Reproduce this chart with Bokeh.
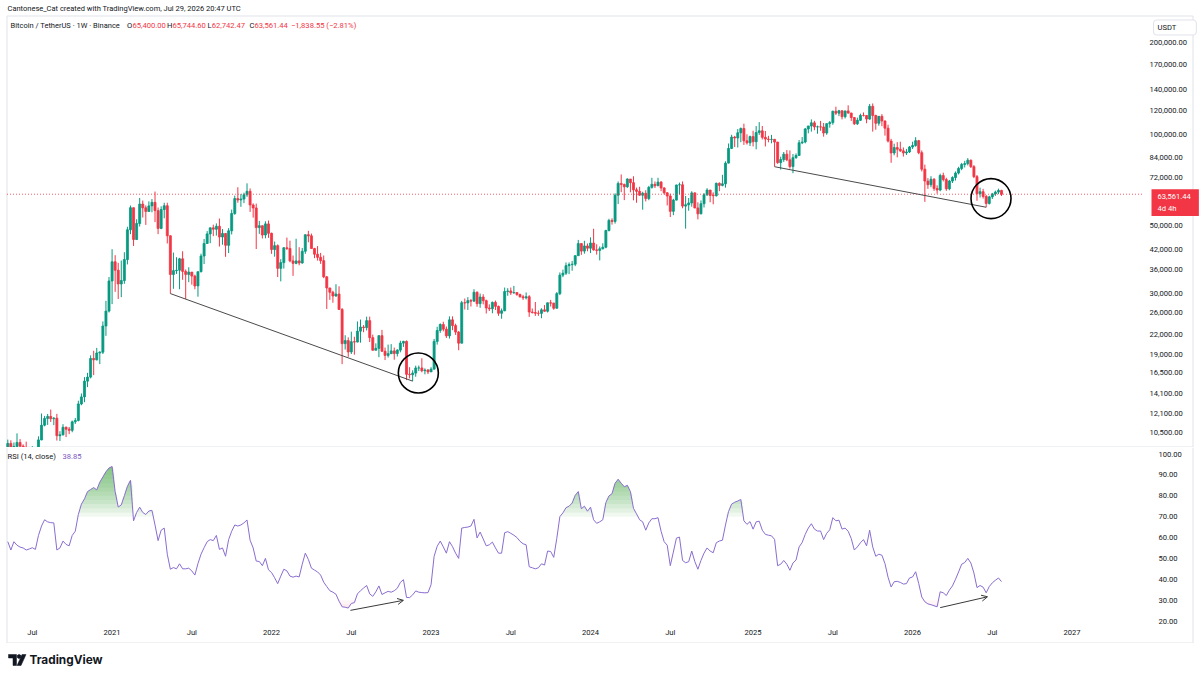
import numpy as np
import pandas as pd
from bokeh.plotting import figure
from bokeh.layouts import column
from bokeh.models import (Range1d, FixedTicker, NumeralTickFormatter, CustomJSTickFormatter,
                          Label, Arrow, OpenHead, ColumnDataSource)
from bokeh.core.properties import value
from bokeh.embed import file_html
from bokeh.resources import INLINE

# ------------------------------------------------------------------ data
start_week = "2020-05-11"          # first weekly bar (Monday)
first_open = 8720

closes = [
    # 2020
    9670, 8720, 9450, 9740, 9470, 9360, 9010, 9070, 9240, 9160,
    9930, 11100, 11680, 11850, 11650, 11700, 10250, 10320, 10920, 10770,
    10670, 11380, 11500, 13030, 13740, 15480, 15960, 18370, 18180, 19150,
    19270, 23480, 26280, 33000,
    # 2021
    38150, 35800, 32260, 33100, 38800, 48580, 57400, 45130, 50970, 59000,
    57350, 55800, 58200, 59770, 56150, 49100, 56620, 58250, 46420, 34650,
    35670, 35800, 39000, 35480, 34680, 35290, 34240, 31780, 35400, 39850,
    43800, 47100, 49300, 48800, 49900, 46000, 47250, 43200, 48200, 54950,
    61500, 60850, 61300, 63300, 65000, 58600, 57300, 49400, 50100, 46700,
    50800, 47300,
    # 2022
    41850, 43100, 36300, 37900, 42400, 42200, 38400, 37700, 38400, 37800,
    41300, 46800, 46400, 42150, 40400, 39450, 38470, 34050, 31300, 30300,
    29450, 29900, 26600, 20550, 21030, 19300, 20850, 20800, 22580, 23300,
    23200, 24450, 21500, 19550, 19830, 21830, 19400, 18800, 19050, 19450,
    19070, 19570, 20630, 20900, 16300, 16250, 16450, 17100, 17100, 16750,
    16840, 16600,
    # 2023
    16950, 20900, 22700, 23750, 22930, 21800, 24600, 23550, 22430, 20620,
    28000, 27950, 28450, 28330, 30300, 27800, 29230, 28430, 26900, 26750,
    28070, 27230, 25850, 26340, 30470, 30600, 30170, 30250, 29790, 29280,
    29050, 29300, 26100, 26000, 25850, 25830, 26530, 26250, 27980, 27920,
    26850, 29980, 34500, 35000, 37050, 37350, 37450, 39950, 43770, 41350,
    43000, 42280,
    # 2024
    43950, 41730, 41580, 42100, 42600, 48300, 52140, 51730, 63100, 68950,
    68380, 67200, 71300, 69350, 65700, 64950, 63100, 64000, 61500, 66950,
    68500, 67750, 69650, 66650, 64250, 62700, 55850, 60800, 68150, 68250,
    58100, 58700, 59500, 64200, 57300, 54800, 59150, 63350, 65600, 63000,
    62850, 69000, 67950, 68750, 80400, 89850, 97900, 97200, 101100, 104450,
    95150, 93700,
    # 2025
    98300, 94500, 101300, 102600, 97700, 96450, 96150, 96250, 94250, 80700,
    82600, 86050, 82400, 78350, 83750, 85200, 93750, 94300, 104100, 106450,
    109000, 105700, 105750, 105600, 100950, 108350, 109200, 119000, 117300, 119450,
    114200, 119300, 117400, 113500, 108250, 111150, 115300, 115250, 112150, 123500,
    115200, 108650, 114500, 110550, 104700, 95000, 86800, 90400, 89300, 88200,
    86800, 87500,
    # 2026
    90800, 91800, 95300, 87000, 76800, 70200, 68300, 71200, 66400, 65600,
    73200, 71000, 66200, 70200, 72100, 74600, 77200, 79600, 80100, 82200,
    78300, 72600, 63800, 64800, 62500, 59300, 62300, 63700, 64600, 65400,
    63561.44,
]

highs = [
    # 2020
    9950, 9900, 9740, 10430, 9990, 9600, 9800, 9300, 9470, 9350,
    10200, 12120, 11900, 12080, 12490, 11800, 12090, 10600, 11180, 10990,
    10950, 11490, 11720, 13350, 14100, 15960, 16480, 18800, 19470, 19900,
    19400, 24300, 28400, 34000,
    # 2021
    41950, 40100, 37850, 38500, 41000, 49700, 58350, 57500, 52600, 61800,
    60600, 58400, 60200, 61300, 64850, 57500, 58000, 59600, 59600, 46600,
    40900, 39500, 39300, 41300, 36000, 36600, 35300, 34600, 35400, 40550,
    45300, 48100, 49400, 50500, 51000, 52900, 48850, 47400, 49200, 56600,
    62900, 67000, 63700, 64300, 69000, 66400, 59300, 59200, 51950, 50200,
    51800, 52100,
    # 2022
    47550, 44450, 43500, 38900, 42650, 45800, 44750, 40000, 45400, 42600,
    42350, 46900, 48200, 47200, 42400, 42950, 40800, 40000, 34250, 31300,
    30650, 32200, 31700, 26900, 21900, 21550, 22500, 21650, 24300, 24650,
    23650, 25200, 25200, 22000, 20600, 21850, 22800, 19950, 20400, 20480,
    19950, 19700, 21000, 21000, 21050, 17200, 16800, 17400, 17420, 18400,
    17050, 16950,
    # 2023
    17200, 21300, 23350, 23950, 24250, 23400, 25250, 25250, 23900, 22600,
    28400, 28900, 29200, 28800, 31000, 30500, 30000, 29850, 28650, 27650,
    28250, 28450, 27400, 26800, 31400, 31250, 31400, 31800, 30350, 29990,
    29700, 30250, 29650, 26800, 28150, 26400, 26850, 27500, 28000, 28600,
    27990, 30350, 35200, 35950, 37950, 37950, 38400, 40000, 45000, 43800,
    44700, 43800,
    # 2024
    45900, 48970, 43550, 42850, 43880, 48600, 52800, 52980, 64000, 70000,
    73800, 68900, 71700, 71300, 72800, 66850, 67250, 64750, 65500, 67700,
    71950, 70000, 71950, 70200, 67000, 64500, 63800, 61400, 68350, 69400,
    70000, 62750, 61800, 65000, 64500, 59800, 60650, 64100, 66500, 65600,
    64450, 69400, 69500, 73600, 81500, 93250, 99600, 98800, 104000, 105250,
    108350, 99950,
    # 2025
    98950, 102700, 106400, 109600, 106450, 102500, 98800, 99500, 96500, 94400,
    84400, 87450, 88750, 88500, 86100, 86500, 95750, 97900, 104900, 106600,
    111900, 110700, 106800, 110600, 108900, 108500, 110500, 119500, 123200, 120250,
    119800, 119300, 124450, 117600, 113600, 113400, 116800, 117900, 115400, 125700,
    126200, 115950, 114800, 116400, 111000, 107500, 96600, 93100, 94200, 94500,
    90500, 89500,
    # 2026
    91500, 94500, 97800, 95800, 88500, 79500, 71800, 72800, 71800, 68000,
    74200, 74800, 72000, 70800, 72800, 75500, 78200, 80500, 81800, 83500,
    82600, 79200, 73500, 66800, 66200, 63200, 62800, 64200, 65300, 66300,
    65744.60,
]

lows = [
    # 2020
    8200, 8700, 8630, 9250, 9100, 8900, 8830, 8900, 9050, 9000,
    9130, 9900, 11000, 11120, 11370, 11100, 9880, 9850, 10260, 10140,
    10370, 10520, 11200, 11420, 12900, 13200, 14800, 15800, 16200, 18100,
    17600, 19000, 21800, 26000,
    # 2021
    27700, 30400, 28800, 29200, 32300, 37400, 47000, 43000, 45000, 49800,
    53300, 50400, 55800, 55450, 51500, 47000, 48800, 53000, 43800, 30000,
    31100, 34800, 31000, 33300, 28800, 32700, 32100, 31000, 29300, 35200,
    37500, 43800, 43900, 46300, 46500, 42800, 43400, 39600, 40750, 46900,
    54400, 59600, 57800, 59400, 62300, 55600, 53250, 42000, 47100, 45500,
    45550, 45700,
    # 2022
    40500, 39650, 34000, 32900, 36250, 41700, 38000, 34300, 37450, 37150,
    37600, 40500, 44200, 42100, 39200, 38500, 37550, 33700, 26700, 28600,
    28000, 29300, 26550, 17600, 19650, 18600, 19000, 18900, 20750, 20700,
    22400, 22700, 20800, 19500, 19550, 18550, 19300, 18150, 18500, 19000,
    18200, 18650, 19250, 20050, 15600, 15800, 15480, 16000, 16700, 16550,
    16300, 16330,
    # 2023
    16600, 16900, 20400, 22300, 22550, 21450, 21350, 22750, 21950, 19550,
    20600, 26600, 26500, 27200, 28170, 27150, 26950, 27650, 25800, 26300,
    25850, 26500, 25350, 24800, 26250, 29500, 29700, 29950, 29500, 29100,
    28600, 28700, 25150, 25800, 25350, 25350, 24900, 26150, 26000, 27200,
    26550, 26800, 29650, 33950, 34550, 34750, 35650, 36900, 39950, 40200,
    40550, 41300,
    # 2024
    40750, 41500, 40280, 38550, 41850, 42250, 48000, 50520, 50900, 59000,
    64550, 60800, 66700, 64500, 60700, 59600, 62800, 56550, 60200, 60750,
    66300, 66600, 67600, 65050, 63400, 58400, 53500, 54250, 60650, 63400,
    57150, 49000, 56100, 57850, 57200, 52550, 54600, 57500, 62700, 59800,
    58900, 62450, 65050, 67500, 66800, 80200, 89400, 90800, 90500, 94150,
    92250, 92500,
    # 2025
    91500, 91200, 89250, 99500, 96150, 91200, 94100, 93400, 78250, 80000,
    76600, 81150, 81600, 77150, 74500, 83100, 85100, 92800, 93350, 100700,
    102000, 103100, 100400, 102650, 98200, 99600, 105100, 107450, 115700, 114700,
    111900, 112650, 116800, 110600, 107250, 107250, 110600, 114400, 108650, 111550,
    102000, 103500, 106650, 106300, 98950, 94000, 80600, 85300, 84000, 87500,
    84500, 85500,
    # 2026
    86800, 89500, 91000, 86000, 75500, 60000, 66200, 67000, 65200, 63800,
    65000, 70000, 65200, 65500, 69200, 70500, 73800, 76200, 77800, 79000,
    77500, 71800, 60500, 62000, 61500, 57600, 58800, 61300, 62800, 63600,
    62742.47,
]

rsi = [
    # 2020
    58, 54, 58, 56.3, 55.4, 55, 54, 54.5, 55.1, 54.3,
    61, 65.5, 68.5, 67.5, 67.1, 67, 54, 55, 58.3, 56.7,
    56, 61, 63, 71, 76, 78.5, 82, 83, 83.9, 82.8,
    86.5, 89, 91.5, 93.3,
    # 2021
    94, 82, 74.6, 75.6, 80, 84.5, 87.4, 68, 72, 74.5,
    72, 71, 72.7, 73, 66, 58.5, 63.5, 64.5, 52, 44.8,
    45.6, 45, 47.4, 45, 45, 45.3, 44, 42, 47.5, 52,
    55.1, 58, 59, 58.5, 61, 54.3, 55, 51, 59, 63,
    66, 65.5, 66, 67, 68.4, 58.7, 55, 48.7, 48.5, 46.5,
    50, 44.5,
    # 2022
    43.2, 40.7, 37.9, 41.5, 44.8, 44, 41.5, 41, 41.5, 41.1,
    47.2, 52.5, 49.5, 45.3, 44.4, 43.5, 42, 38.6, 36.5, 34.5,
    33.8, 32.8, 29.5, 26.8, 26.6, 26.2, 28.4, 28.8, 33, 34.5,
    35.8, 37, 33, 31.8, 34, 36.8, 32.7, 33.5, 34.2, 33.8,
    34.5, 35.7, 38.5, 39.8, 31.3, 31.2, 32.5, 34.4, 33.8, 33.6,
    33.5, 33.6,
    # 2023
    37.4, 51, 55.8, 58.3, 55.5, 52.5, 58, 55.6, 52.5, 50,
    64.5, 64.8, 65, 65.5, 68.7, 59.8, 62.6, 59.3, 56, 56.5,
    57.8, 55, 52.5, 52.5, 62.3, 62.8, 62, 61.1, 60, 58.2,
    57, 56.5, 46, 45.5, 45, 45.5, 47.4, 46.8, 53.5, 53.3,
    50.5, 59.6, 70, 71.8, 74.3, 75, 76.5, 80.2, 82, 73.8,
    75, 72.6,
    # 2024
    74.5, 68.5, 66.8, 67.5, 68.5, 76.7, 79.9, 81, 86, 87.9,
    86, 84.3, 85, 82, 74, 71.3, 68.5, 67.5, 63.5, 67,
    69, 69, 69.5, 63, 58, 56.3, 46.5, 53, 59.7, 60.2,
    49, 47.9, 48.4, 53.5, 48.5, 44.8, 49, 52.5, 55, 53.5,
    52.7, 57.5, 58.3, 58.7, 66, 72.5, 76, 76.9, 77.5, 78.2,
    68, 66.3,
    # 2025
    67.6, 64, 67.5, 67.8, 63.5, 61.5, 61.1, 60.8, 59.1, 46.5,
    47.2, 49, 47.2, 44.3, 47.8, 49.2, 55.5, 57.6, 61.5, 64.5,
    66.6, 64, 63.1, 63.1, 59, 62, 63.7, 69.5, 68, 68.3,
    64, 64.5, 63, 59.5, 54, 55.5, 57.5, 59, 56, 63.5,
    55.5, 51, 52, 51.5, 47.5, 41, 36.3, 38.8, 39, 38.5,
    37.7, 37.9,
    # 2026
    40.6, 41.1, 43.6, 38, 31.5, 29.2, 28.2, 27.8, 27.3, 26.8,
    34, 33.5, 32.2, 34.8, 36.8, 40, 43.5, 47.2, 48, 50,
    47.8, 43, 36, 37, 36.2, 33.5, 36.5, 38.3, 39.5, 40.6,
    38.85,
]

price_ticks = [10500, 12100, 14100, 16500, 19000, 22000, 26000, 30000, 36000,
               42000, 50000, 72000, 84000, 100000, 120000, 140000, 170000, 200000]
rsi_ticks = [20, 30, 40, 50, 60, 70, 80, 90, 100]
time_tick_dates = ["2020-07-06", "2021-01-04", "2021-07-05", "2022-01-03", "2022-07-04",
                   "2023-01-02", "2023-07-03", "2024-01-01", "2024-07-01", "2025-01-06",
                   "2025-07-07", "2026-01-05", "2026-07-06", "2027-01-04"]
time_tick_labels = ["Jul", "2021", "Jul", "2022", "Jul", "2023", "Jul", "2024", "Jul",
                    "2025", "Jul", "2026", "Jul", "2027"]

last_change = -1838.55
last_change_pct = -2.81
bar_countdown = "4d 4h"
currency = "USDT"
rsi_period_text = "RSI (14, close)"

# drawing annotations (bar indices of the anchoring lows)
trend_lines = [(53, 132), (250, 319)]
circle_dates = ["2022-12-04", "2026-07-03"]
circle_prices = [16460, 61500]
arrow_dates = [("2022-07-02", "2022-10-31"), ("2026-03-09", "2026-06-25")]
arrow_values = [(25.1, 29.9), (26.4, 31.6)]

for name, arr in (("highs", highs), ("lows", lows), ("rsi", rsi)):
    if len(arr) != len(closes):
        raise ValueError(f"{name}: {len(arr)} vs closes {len(closes)}")

# ------------------------------------------------------------------ helpers
FONT = "Roboto"
TXT = "#131722"
UP = "#089981"
DOWN = "#F23645"
GRID = "#e0e3eb"
FS = "7.6px"
DAY = 86400000.0


def ms(d):
    return pd.Timestamp(d).value / 1e6


n = len(closes)
t0 = ms(start_week)
xs = np.array([t0 + 7 * DAY * i for i in range(n)])
opens = [first_open] + closes[:-1]
o = np.array(opens, float)
c = np.array(closes, float)
h = np.maximum(np.array(highs, float), np.maximum(o, c))
lo = np.minimum(np.array(lows, float), np.minimum(o, c))
col = [UP if cc >= oo else DOWN for oo, cc in zip(o, c)]

# page geometry (pixels); every frame covers its whole strip
PX_PER_DAY = 0.43815
X_FIRST = 7.3
PX_DEC, Y_REF, P_REF = 304.7, 432.0, 10500.0
R_PX, R_Y100 = 2.0875, 453.5
P1_H = 447
P2_TOP, P2_BOT = 447, 643
AX_X = 1143          # price-scale edge
BL, BR, BT = 6.5, 1192.5, 15.5


def X(cx):
    return t0 + (cx - X_FIRST) / PX_PER_DAY * DAY


def PY(cy):
    return P_REF * 10 ** ((Y_REF - cy) / PX_DEC)


def RY(cy):
    return 100 - (cy - R_Y100) / R_PX


def style_axis(ax, standoff):
    ax.axis_line_color = None
    ax.major_tick_line_color = None
    ax.minor_tick_line_color = None
    ax.major_tick_out = 0
    ax.major_tick_in = 0
    ax.major_label_standoff = standoff
    ax.major_label_text_font = FONT
    ax.major_label_text_font_size = FS
    ax.major_label_text_color = TXT


# ------------------------------------------------------------------ price pane
p1 = figure(width=1200, height=P1_H, x_range=Range1d(X(0), X(1200)),
            y_range=Range1d(PY(P1_H), PY(0)), y_axis_type="log", y_axis_location="right",
            x_axis_location=None, toolbar_location=None, output_backend="svg",
            min_border=0, background_fill_color="white", border_fill_color="white",
            outline_line_color=None)
p1.grid.visible = False
ya = p1.yaxis[0]
ya.ticker = FixedTicker(ticks=price_ticks)
ya.formatter = NumeralTickFormatter(format="0,0.00")
ya.fixed_location = X(AX_X)
style_axis(ya, 6)

# frame borders
p1.segment(x0=[X(BL), X(BR), X(BL), X(BL)], y0=[PY(BT), PY(BT), PY(BT), PY(446.5)],
           x1=[X(BL), X(BR), X(BR), X(BR)], y1=[PY(P1_H), PY(P1_H), PY(BT), PY(446.5)],
           line_color=GRID, line_width=1)

src = ColumnDataSource(dict(x=xs, o=o, h=h, l=lo, c=c, top=np.maximum(o, c),
                            bottom=np.minimum(o, c), color=col))
p1.segment(x0="x", y0="h", x1="x", y1="l", line_color="color", line_width=1, source=src)
p1.vbar(x="x", width=4.6 * DAY, top="top", bottom="bottom", fill_color="color",
        line_color="color", line_width=0.8, source=src)

# last-price line
p1.line(x=[X(BL), X(AX_X)], y=[closes[-1], closes[-1]], line_color=DOWN,
        line_dash="1 2", line_width=1, line_alpha=0.8)

for a, b in trend_lines:
    p1.line(x=[xs[a], xs[b]], y=[lo[a], lo[b]], line_color="#4a4a4a", line_width=1)

p1.scatter(x=[ms(d) for d in circle_dates], y=circle_prices, marker="circle", size=40,
           fill_color=None, line_color="#000000", line_width=1.6)


def lab(fig, cx, cy, text, bottom, color=TXT, size=FS, **kw):
    fig.add_layout(Label(x=cx, y=bottom - cy, x_units="screen", y_units="screen",
                         text=text, text_color=color, text_font=FONT, text_font_size=size,
                         text_baseline="middle", **kw))


lab(p1, 7, 8, "Cantonese_Cat created with TradingView.com, Jul 29, 2026 20:47 UTC", P1_H,
    size="7.5px")
lab(p1, 10, 25, "Bitcoin / TetherUS \u00b7 1W \u00b7 Binance", P1_H, size="7.5px")
leg = [("O", opens[-1], 126.5, 5.4), ("H", highs[-1], 166.5, 5.4),
       ("L", lows[-1], 207.0, 4.2), ("C", closes[-1], 249.0, 5.0)]
for k, v, xx, wk in leg:
    lab(p1, xx, 25, k, P1_H, size="7.6px")
    lab(p1, xx + wk, 25, f"{v:,.2f}", P1_H, color=DOWN)
chg = f"{last_change:,.2f} ({last_change_pct:.2f}%)".replace("-", "\u2212")
lab(p1, 290.5, 25, chg, P1_H, color=DOWN)

lab(p1, 1153, 27, currency, P1_H, border_line_color=GRID, border_line_width=1,
    background_fill_color="white", padding=dict(left=4, right=20, top=3, bottom=3),
    border_radius=3)

p1.add_layout(Label(x=1151, y=closes[-1], x_units="screen", y_units="data",
                    text=f"{closes[-1]:,.2f}\n{bar_countdown}", text_color="white",
                    text_font=FONT, text_font_size=FS, text_baseline="top", y_offset=5,
                    background_fill_color=DOWN,
                    padding=dict(left=6, right=8, top=3, bottom=3),
                    text_line_height=1.3))

# ------------------------------------------------------------------ RSI pane
p2 = figure(width=1200, height=P2_BOT - P2_TOP, x_range=p1.x_range,
            y_range=Range1d(RY(P2_BOT), RY(P2_TOP)),
            y_axis_location="right", x_axis_location="below", toolbar_location=None,
            output_backend="svg", min_border=0,
            background_fill_color="white", border_fill_color="white",
            outline_line_color=None)
p2.grid.visible = False
ry = p2.yaxis[0]
ry.ticker = FixedTicker(ticks=rsi_ticks)
ry.formatter = NumeralTickFormatter(format="0.00")
ry.fixed_location = X(AX_X)
style_axis(ry, 15)

xa = p2.xaxis[0]
tick_ms = [ms(d) for d in time_tick_dates]
xa.ticker = FixedTicker(ticks=tick_ms)
xa.formatter = CustomJSTickFormatter(args=dict(tvals=tick_ms, tlabels=time_tick_labels), code="""
let best = 0;
for (let k = 0; k < tvals.length; k++) {
  if (Math.abs(tvals[k] - tick) < Math.abs(tvals[best] - tick)) best = k;
}
return tlabels[best];
""")
xa.fixed_location = RY(625)
style_axis(xa, 2)

p2.segment(x0=[X(BL), X(BR), X(BL)], y0=[RY(P2_TOP), RY(P2_TOP), RY(642.5)],
           x1=[X(BL), X(BR), X(BR)], y1=[RY(642.5), RY(642.5), RY(642.5)],
           line_color=GRID, line_width=1)

r = np.array(rsi, float)
for k in range(15):
    t = 70 + 2 * k
    p2.varea(x=xs, y1=np.full(n, t), y2=np.maximum(r, t), fill_color="#4caf50",
             fill_alpha=0.085)
for k in range(5):
    t = 30 - 2 * k
    p2.varea(x=xs, y1=np.minimum(r, t), y2=np.full(n, t), fill_color="#f23645",
             fill_alpha=0.05)
p2.line(xs, r, line_color="#8a6dd0", line_width=1)

for (d0, d1), (v0, v1) in zip(arrow_dates, arrow_values):
    p2.add_layout(Arrow(end=OpenHead(size=6, line_color="#3a3a3a", line_width=1),
                        x_start=ms(d0), y_start=v0, x_end=ms(d1), y_end=v1,
                        line_color="#3a3a3a", line_width=1))

lab(p2, 7, 456, rsi_period_text, P2_BOT)
lab(p2, 62, 456, f"{rsi[-1]:.2f}", P2_BOT, color="#7E57C2")

# ------------------------------------------------------------------ footer (logo)
p3 = figure(width=1200, height=677 - P2_BOT, x_range=Range1d(0, 1200),
            y_range=Range1d(677 - P2_BOT, 0),
            toolbar_location=None, output_backend="svg", min_border=0,
            x_axis_location=None, y_axis_location=None, outline_line_color=None,
            background_fill_color="white", border_fill_color="white")
p3.grid.visible = False
p3.patch(x=[8, 16, 16, 12.5, 12.5, 8], y=[11, 11, 22, 22, 14.5, 14.5], fill_color=TXT,
         line_color=TXT, line_width=0.5)
p3.scatter(x=[18.6], y=[13], size=3.6, marker="circle", fill_color=TXT, line_color=TXT)
p3.patch(x=[21.5, 25.5, 20.5, 16.6], y=[11, 11, 22, 22], fill_color=TXT, line_color=TXT,
         line_width=0.5)
p3.text(x=[29], y=[16.3], text=["TradingView"], text_font=value("Inter"),
        text_font_size="11.8px", text_font_style="bold", text_baseline="middle",
        text_color=TXT)

layout = column(p1, p2, p3)
open("out.html", "w").write(file_html(layout, INLINE))
